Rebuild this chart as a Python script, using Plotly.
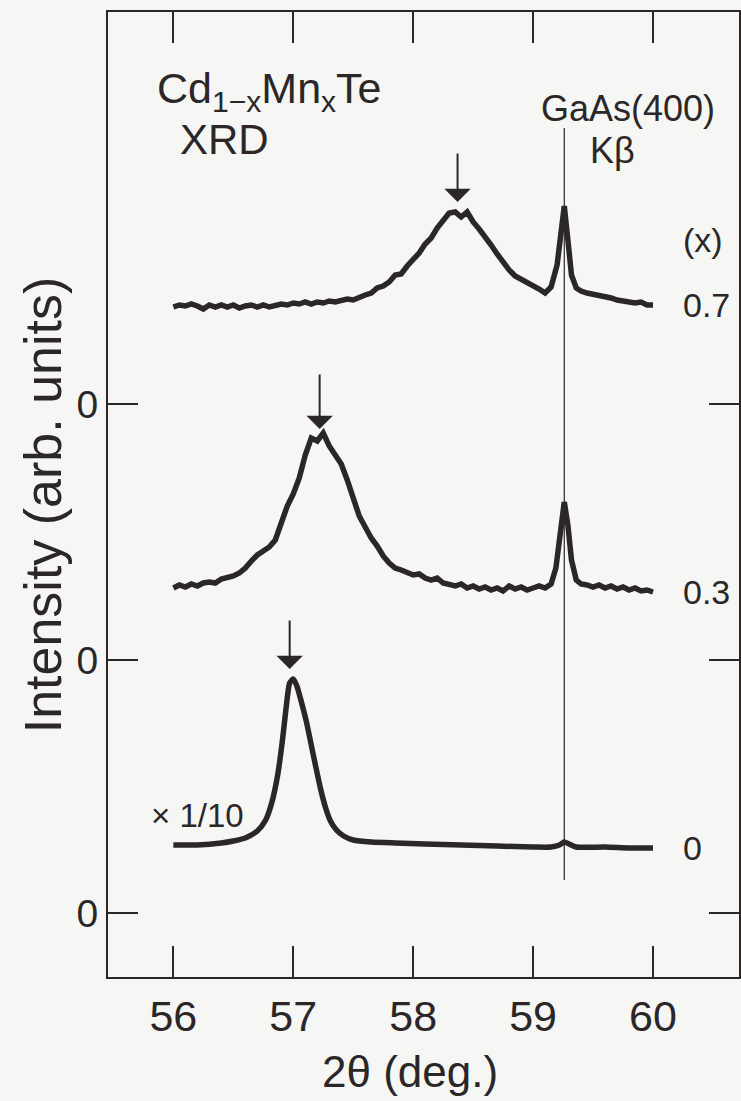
import plotly.graph_objects as go

# ---------------- data ----------------
two_theta_07 = [56.00, 56.05, 56.10, 56.15, 56.20, 56.25, 56.30, 56.35, 56.40, 56.45,
                56.50, 56.55, 56.60, 56.65, 56.70, 56.75, 56.80, 56.85, 56.90, 56.95,
                57.00, 57.05, 57.10, 57.15, 57.20, 57.25, 57.30, 57.35, 57.40, 57.45,
                57.50, 57.55, 57.60, 57.65, 57.70, 57.75, 57.80, 57.85, 57.90, 57.95,
                58.00, 58.05, 58.10, 58.15, 58.20, 58.25, 58.30, 58.35, 58.40, 58.45,
                58.50, 58.55, 58.60, 58.65, 58.70, 58.75, 58.80, 58.85, 58.90, 58.95,
                59.00, 59.05, 59.10, 59.15, 59.20, 59.23, 59.26, 59.29, 59.32, 59.36,
                59.40, 59.45, 59.50, 59.55, 59.60, 59.65, 59.70, 59.75, 59.80, 59.85,
                59.90, 59.95, 60.00]
intensity_07 = [0.97, 0.99, 0.98, 1.00, 0.98, 0.95, 0.99, 0.97, 0.99, 0.97,
                0.99, 0.96, 0.98, 0.99, 0.97, 0.99, 0.97, 0.99, 1.00, 0.99,
                1.01, 1.00, 1.02, 1.00, 1.02, 1.01, 1.03, 1.02, 1.04, 1.05,
                1.04, 1.07, 1.09, 1.11, 1.16, 1.18, 1.22, 1.29, 1.30, 1.38,
                1.44, 1.51, 1.60, 1.66, 1.76, 1.84, 1.91, 1.92, 1.87, 1.92,
                1.82, 1.75, 1.68, 1.59, 1.50, 1.41, 1.34, 1.28, 1.25, 1.21,
                1.18, 1.15, 1.11, 1.17, 1.39, 1.69, 1.98, 1.64, 1.29, 1.16,
                1.13, 1.11, 1.10, 1.09, 1.08, 1.06, 1.04, 1.03, 1.02, 1.01,
                1.02, 0.99, 0.99]

two_theta_03 = [56.00, 56.05, 56.10, 56.15, 56.20, 56.25, 56.30, 56.35, 56.40, 56.45,
                56.50, 56.55, 56.60, 56.65, 56.70, 56.75, 56.80, 56.85, 56.90, 56.95,
                57.00, 57.05, 57.10, 57.15, 57.20, 57.25, 57.30, 57.35, 57.40, 57.45,
                57.50, 57.55, 57.60, 57.65, 57.70, 57.75, 57.80, 57.85, 57.90, 57.95,
                58.00, 58.05, 58.10, 58.15, 58.20, 58.25, 58.30, 58.35, 58.40, 58.45,
                58.50, 58.55, 58.60, 58.65, 58.70, 58.75, 58.80, 58.85, 58.90, 58.95,
                59.00, 59.05, 59.10, 59.15, 59.19, 59.22, 59.26, 59.29, 59.32, 59.36,
                59.40, 59.45, 59.50, 59.55, 59.60, 59.65, 59.70, 59.75, 59.80, 59.85,
                59.90, 59.95, 60.00]
intensity_03 = [0.72, 0.75, 0.73, 0.76, 0.74, 0.77, 0.78, 0.77, 0.81, 0.82,
                0.84, 0.87, 0.92, 0.99, 1.05, 1.09, 1.13, 1.20, 1.37, 1.54,
                1.66, 1.82, 2.05, 2.22, 2.19, 2.27, 2.14, 2.05, 1.96, 1.80,
                1.60, 1.44, 1.33, 1.22, 1.14, 1.04, 0.97, 0.92, 0.90, 0.88,
                0.85, 0.86, 0.82, 0.80, 0.82, 0.77, 0.75, 0.74, 0.76, 0.72,
                0.74, 0.71, 0.73, 0.70, 0.72, 0.69, 0.74, 0.71, 0.73, 0.70,
                0.72, 0.74, 0.72, 0.76, 0.92, 1.25, 1.58, 1.35, 1.00, 0.80,
                0.76, 0.75, 0.73, 0.75, 0.72, 0.74, 0.71, 0.73, 0.70, 0.72,
                0.69, 0.70, 0.68]

two_theta_00 = [56.00, 56.20, 56.40, 56.50, 56.60, 56.70, 56.77, 56.82, 56.87, 56.91,
                56.94, 56.97, 57.00, 57.03, 57.07, 57.11, 57.15, 57.19, 57.23, 57.27,
                57.31, 57.36, 57.42, 57.50, 57.65, 57.85, 58.10, 58.40, 58.70, 59.00,
                59.15, 59.22, 59.26, 59.30, 59.36, 59.60, 59.80, 60.00]
intensity_00 = [0.68, 0.68, 0.70, 0.72, 0.75, 0.82, 0.93, 1.10, 1.38, 1.73,
                2.05, 2.30, 2.34, 2.27, 2.10, 1.91, 1.68, 1.45, 1.23, 1.05,
                0.92, 0.83, 0.77, 0.73, 0.71, 0.70, 0.69, 0.68, 0.67, 0.66,
                0.66, 0.68, 0.71, 0.69, 0.66, 0.66, 0.65, 0.65]

compositions = ["0", "0.3", "0.7"]
offsets = [0.0, 2.53, 5.09]
peak_positions = [56.97, 57.22, 58.37]
gaas_kbeta = 59.26

x_ticks = [56, 57, 58, 59, 60]
x_range = [55.455, 60.717]
y_range = [-0.64, 9.01]

INK = "#2b2728"
BG = "#f6f6f4"
FONT = "Liberation Sans, Arial, Helvetica, sans-serif"

series = [(two_theta_00, intensity_00), (two_theta_03, intensity_03), (two_theta_07, intensity_07)]
arrow_gaps = [10, 4, 10]

fig = go.Figure()

# GaAs(400) K-beta reference line
fig.add_shape(type="line", x0=gaas_kbeta, x1=gaas_kbeta, y0=0.33, y1=7.85,
              xref="x", yref="y", line=dict(color=INK, width=1.2), layer="below")

for i, ((xs, ys), off, comp, px) in enumerate(zip(series, offsets, compositions, peak_positions)):
    yy = [v + off for v in ys]
    fig.add_trace(go.Scatter(x=xs, y=yy, mode="lines",
                             line=dict(color=INK, width=5.5,
                                       shape="spline" if comp == "0" else "linear",
                                       smoothing=0.6),
                             showlegend=False, hoverinfo="skip"))
    # composition label at the right end
    fig.add_annotation(x=xs[-1], y=yy[-1], text=comp, showarrow=False,
                       xanchor="left", yanchor="middle", xshift=28,
                       font=dict(size=34, color=INK, family=FONT))
    # arrow marking the alloy peak
    peak_val = max(v for xv, v in zip(xs, ys) if abs(xv - px) < 0.3) + off
    fig.add_annotation(x=px, y=peak_val, ax=0, ay=-60, showarrow=True,
                       arrowhead=1, arrowsize=2.2, arrowwidth=2, arrowcolor=INK,
                       standoff=arrow_gaps[i], text="")

# texts
fig.add_annotation(x=55.845, y=8.22, text="Cd<sub>1\u2212x</sub>Mn<sub>x</sub>Te",
                   showarrow=False, xanchor="left", yanchor="middle",
                   font=dict(size=43, color=INK, family=FONT))
fig.add_annotation(x=56.04, y=7.74, text="XRD", showarrow=False,
                   xanchor="left", yanchor="middle",
                   font=dict(size=42, color=INK, family=FONT))
fig.add_annotation(x=59.045, y=8.05, text="GaAs(400)", showarrow=False,
                   xanchor="left", yanchor="middle",
                   font=dict(size=36, color=INK, family=FONT))
fig.add_annotation(x=59.46, y=7.63, text="K\u03b2", showarrow=False,
                   xanchor="left", yanchor="middle",
                   font=dict(size=36, color=INK, family=FONT))
fig.add_annotation(x=60.0, y=6.73, text="(x)", showarrow=False,
                   xanchor="left", yanchor="middle", xshift=28,
                   font=dict(size=34, color=INK, family=FONT))
fig.add_annotation(x=55.80, y=0.98, text="\u00d7 1/10", showarrow=False,
                   xanchor="left", yanchor="middle",
                   font=dict(size=33, color=INK, family=FONT))

# axis titles
fig.add_annotation(xref="paper", yref="paper", x=0.479, y=-0.0975,
                   text="2\u03b8 (deg.)", showarrow=False,
                   xanchor="center", yanchor="middle",
                   font=dict(size=44, color=INK, family=FONT))
fig.add_annotation(xref="paper", yref="paper", x=-0.1027, y=0.489,
                   text="Intensity (arb. units)", showarrow=False, textangle=-90,
                   xanchor="center", yanchor="middle",
                   font=dict(size=52, color=INK, family=FONT))

fig.update_xaxes(range=x_range, tickvals=x_ticks, ticktext=[str(t) for t in x_ticks],
                 ticks="inside", ticklen=31, tickwidth=1.5, tickcolor=INK,
                 showline=True, linecolor=INK, linewidth=2, mirror="ticks",
                 showgrid=False, zeroline=False,
                 tickfont=dict(size=43, color=INK, family=FONT))
fig.update_yaxes(range=y_range, tickvals=offsets, ticktext=["0", "0", "0"],
                 ticks="inside", ticklen=30, tickwidth=1.5, tickcolor=INK,
                 showline=True, linecolor=INK, linewidth=2, mirror="ticks",
                 showgrid=False, zeroline=False,
                 tickfont=dict(size=39, color=INK, family=FONT))

fig.update_layout(width=741, height=1101,
                  margin=dict(l=108, r=0, t=12, b=124),
                  paper_bgcolor=BG, plot_bgcolor=BG,
                  showlegend=False)

fig.write_html("out.html")
